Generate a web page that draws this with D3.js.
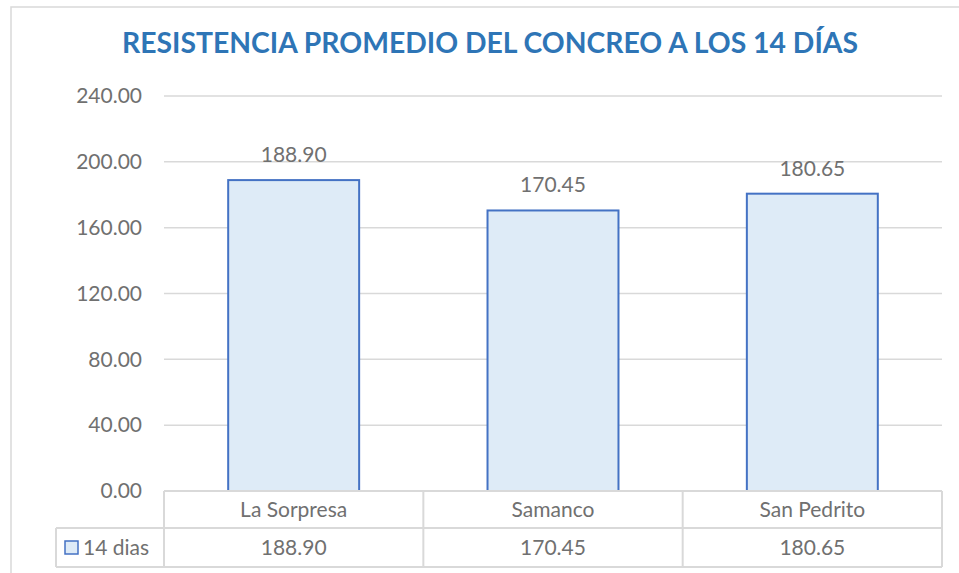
<!DOCTYPE html>
<html>
<head>
<meta charset="utf-8">
<script src="https://cdn.jsdelivr.net/npm/d3@7"></script>
<style>
  html, body { margin: 0; padding: 0; background: #fff; }
  svg { display: block; }
</style>
</head>
<body>
<svg id="chart" width="959" height="573"></svg>
<script>
const title = "RESISTENCIA PROMEDIO DEL CONCREO A LOS 14 DÍAS";
const categories = ["La Sorpresa", "Samanco", "San Pedrito"];
const values = [188.90, 170.45, 180.65];
const seriesName = "14 dias";
const yTicks = [0, 40, 80, 120, 160, 200, 240];

const width = 959, height = 573;
const plot = {left: 164, right: 942, top: 96, bottom: 491};
const table = {left: 56, rowMid: 528, bottom: 567};
const font = "Lato, 'Liberation Sans', sans-serif";
const textColor = "#707070";
const gridColor = "#d9d9d9";
const fs = 21;

const svg = d3.select("#chart");

// chart area border
svg.append("rect")
  .attr("x", 11).attr("y", 7)
  .attr("width", width + 10).attr("height", height + 10)
  .attr("fill", "none")
  .attr("stroke", gridColor)
  .attr("stroke-width", 1.5);

svg.append("text")
  .attr("x", 490).attr("y", 53)
  .attr("text-anchor", "middle")
  .attr("font-family", font)
  .attr("font-weight", "bold")
  .attr("font-size", 28)
  .attr("textLength", 736)
  .attr("lengthAdjust", "spacingAndGlyphs")
  .attr("fill", "#2e75b6")
  .text(title);

const x = d3.scaleBand()
  .domain(categories)
  .range([plot.left, plot.right])
  .paddingInner(0.495)
  .paddingOuter(0.2475);

const y = d3.scaleLinear()
  .domain([0, 240])
  .range([plot.bottom, plot.top]);

// gridlines
svg.append("g")
  .selectAll("line")
  .data(yTicks.filter(d => d > 0))
  .enter().append("line")
  .attr("x1", plot.left).attr("x2", plot.right)
  .attr("y1", d => y(d)).attr("y2", d => y(d))
  .attr("stroke", gridColor)
  .attr("stroke-width", 1.5);

// y tick labels
const yAxis = d3.axisLeft(y).tickValues(yTicks).tickFormat(d3.format(".2f")).tickSize(0).tickPadding(22);
const ya = svg.append("g").attr("transform", `translate(${plot.left},0)`).call(yAxis);
ya.select(".domain").remove();
ya.selectAll("text")
  .attr("font-family", font)
  .attr("font-size", fs)
  .attr("fill", textColor);

// bars
svg.append("g")
  .selectAll("rect")
  .data(values)
  .enter().append("rect")
  .attr("x", (d, i) => x(categories[i]))
  .attr("y", d => y(d))
  .attr("width", x.bandwidth())
  .attr("height", d => y(0) - y(d))
  .attr("fill", "#deebf7")
  .attr("stroke", "#4472c4")
  .attr("stroke-width", 2);

// data labels
svg.append("g")
  .selectAll("text")
  .data(values)
  .enter().append("text")
  .attr("x", (d, i) => x(categories[i]) + x.bandwidth() / 2)
  .attr("y", d => y(d) - 18)
  .attr("text-anchor", "middle")
  .attr("font-family", font)
  .attr("font-size", fs)
  .attr("fill", textColor)
  .text(d => d3.format(".2f")(d));

// data table
const colEdges = categories.map(c => x(c) - x.step() * x.paddingInner() / 2);
colEdges.push(plot.right);
const t = svg.append("g").attr("stroke", gridColor).attr("stroke-width", 2).attr("fill", "none");
t.append("line").attr("x1", plot.left).attr("x2", plot.right).attr("y1", plot.bottom).attr("y2", plot.bottom);
t.append("line").attr("x1", table.left).attr("x2", plot.right).attr("y1", table.rowMid).attr("y2", table.rowMid);
t.append("line").attr("x1", table.left).attr("x2", plot.right).attr("y1", table.bottom).attr("y2", table.bottom);
t.append("line").attr("x1", table.left).attr("x2", table.left).attr("y1", table.rowMid).attr("y2", table.bottom);
t.selectAll("line.col")
  .data(colEdges)
  .enter().append("line")
  .attr("class", "col")
  .attr("x1", d => d).attr("x2", d => d)
  .attr("y1", plot.bottom).attr("y2", table.bottom);

const cellText = svg.append("g")
  .attr("font-family", font)
  .attr("font-size", fs)
  .attr("fill", textColor)
  .attr("text-anchor", "middle");
cellText.selectAll("text.cat")
  .data(categories)
  .enter().append("text")
  .attr("class", "cat")
  .attr("x", d => x(d) + x.bandwidth() / 2)
  .attr("y", (plot.bottom + table.rowMid) / 2 + 7)
  .text(d => d);
cellText.selectAll("text.val")
  .data(values)
  .enter().append("text")
  .attr("class", "val")
  .attr("x", (d, i) => x(categories[i]) + x.bandwidth() / 2)
  .attr("y", (table.rowMid + table.bottom) / 2 + 7)
  .text(d => d3.format(".2f")(d));

// legend key in table
svg.append("rect")
  .attr("x", 65).attr("y", 541)
  .attr("width", 13).attr("height", 13)
  .attr("fill", "#deebf7")
  .attr("stroke", "#4472c4")
  .attr("stroke-width", 1.5);
svg.append("text")
  .attr("x", 83).attr("y", (table.rowMid + table.bottom) / 2 + 7)
  .attr("font-family", font)
  .attr("font-size", fs)
  .attr("fill", textColor)
  .text(seriesName);
</script>
</body>
</html>
